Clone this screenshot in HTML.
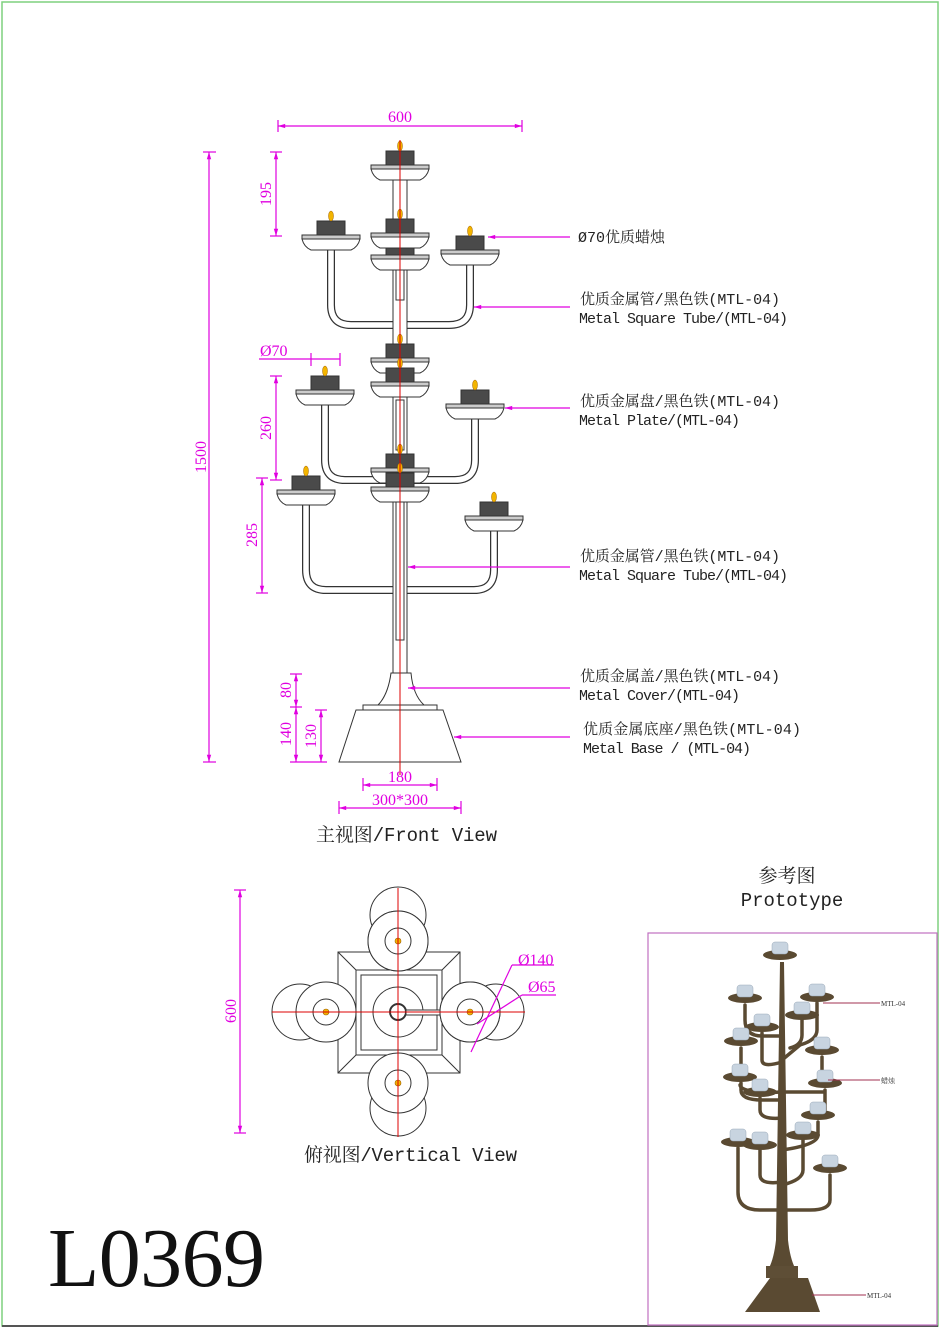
<!DOCTYPE html>
<html><head><meta charset="utf-8"><style>
html,body{margin:0;padding:0;background:#fff}
svg{display:block}
.t{font-family:"Liberation Mono","Noto Serif CJK SC",monospace;font-size:15px;fill:#222}
.d{font-family:"Liberation Serif","Noto Serif CJK SC",serif;font-size:16px;fill:#e000e0}
.m{stroke:#e000e0;stroke-width:1.2;fill:none}
</style></head><body>
<svg width="940" height="1329" viewBox="0 0 940 1329" xmlns="http://www.w3.org/2000/svg">
<defs>
<marker id="a" viewBox="0 0 10 10" refX="10" refY="5" markerWidth="8" markerHeight="6" orient="auto-start-reverse"><path d="M0,2 L10,5 L0,8z" fill="#e000e0"/></marker>
<g id="h">
<rect x="-14" y="-14" width="28" height="14" fill="#4a4a4a" stroke="#333"/>
<ellipse cx="0" cy="-19" rx="2.5" ry="5" fill="#f2b400" stroke="#a06000" stroke-width="0.5"/>
<path d="M-29,4 L29,4 Q27,12 20,15 L-20,15 Q-27,12 -29,4 Z" fill="#fff" stroke="#333"/>
<rect x="-29" y="0" width="58" height="4" fill="#ccc" stroke="#333"/>
</g>
<g id="p"><circle r="28" fill="#fff" stroke="#333"/></g>
<g id="q"><circle r="30" fill="#fff" stroke="#333"/><circle r="13" fill="none" stroke="#333"/><circle r="3" fill="#f2b400" stroke="#a06000" stroke-width=".6"/></g>
</defs>
<rect x="2" y="2" width="936" height="1324" fill="none" stroke="#7fd07f" stroke-width="1.5"/>
<line x1="2" y1="1326" x2="938" y2="1326" stroke="#555" stroke-width="2"/>

<g fill="none">
<path d="M331,249 V305 Q331,325 351,325 H449 Q470,325 470,305 V264" stroke="#333" stroke-width="8"/>
<path d="M331,249 V305 Q331,325 351,325 H449 Q470,325 470,305 V264" stroke="#fff" stroke-width="5.5"/>
<path d="M325,404 V460 Q325,480 345,480 H455 Q475,480 475,460 V418" stroke="#333" stroke-width="8"/>
<path d="M325,404 V460 Q325,480 345,480 H455 Q475,480 475,460 V418" stroke="#fff" stroke-width="5.5"/>
<path d="M306,504 V570 Q306,590 326,590 H474 Q494,590 494,570 V530" stroke="#333" stroke-width="8"/>
<path d="M306,504 V570 Q306,590 326,590 H474 Q494,590 494,570 V530" stroke="#fff" stroke-width="5.5"/>
</g>
<path d="M393,175 H407 V675 H393 Z" fill="#fff" stroke="#333"/>
<path d="M396,270 H404 V300 H396Z M396,400 H404 V450 H396Z M396,500 H404 V640 H396Z" fill="none" stroke="#333"/>
<use href="#h" x="400" y="165"/>
<use href="#h" x="400" y="255"/>
<use href="#h" x="331" y="235"/>
<use href="#h" x="400" y="233"/>
<use href="#h" x="470" y="250"/>
<use href="#h" x="400" y="358"/>
<use href="#h" x="400" y="382"/>
<use href="#h" x="325" y="390"/>
<use href="#h" x="475" y="404"/>
<use href="#h" x="400" y="468"/>
<use href="#h" x="400" y="487"/>
<use href="#h" x="306" y="490"/>
<use href="#h" x="494" y="516"/>
<path d="M391,673 Q388,695 378,705 H424 Q413,695 411,673 Z" fill="#fff" stroke="#333"/>
<rect x="363" y="705" width="74" height="5" fill="#fff" stroke="#333"/>
<path d="M356,710 H443 L461,762 H339 Z" fill="#fff" stroke="#333"/>
<line x1="400" y1="140" x2="400" y2="775" stroke="#d00" stroke-width="1"/>

<line class="m" x1="278" y1="126" x2="522" y2="126" marker-start="url(#a)" marker-end="url(#a)"/>
<line class="m" x1="278" y1="120" x2="278" y2="132"/><line class="m" x1="522" y1="120" x2="522" y2="132"/>
<text class="d" x="400" y="122" text-anchor="middle">600</text>
<line class="m" x1="209" y1="152" x2="209" y2="762" marker-start="url(#a)" marker-end="url(#a)"/>
<line class="m" x1="203" y1="152" x2="216" y2="152"/><line class="m" x1="203" y1="762" x2="216" y2="762"/>
<text class="d" transform="translate(206,457) rotate(-90)" text-anchor="middle">1500</text>
<line class="m" x1="276" y1="152" x2="276" y2="236" marker-start="url(#a)" marker-end="url(#a)"/>
<line class="m" x1="270" y1="152" x2="282" y2="152"/><line class="m" x1="270" y1="236" x2="282" y2="236"/>
<text class="d" transform="translate(271,194) rotate(-90)" text-anchor="middle">195</text>
<line class="m" x1="259" y1="359" x2="340" y2="359"/>
<line class="m" x1="311" y1="353" x2="311" y2="366"/><line class="m" x1="340" y1="353" x2="340" y2="366"/>
<text class="d" x="260" y="356">Ø70</text>
<line class="m" x1="276" y1="376" x2="276" y2="480" marker-start="url(#a)" marker-end="url(#a)"/>
<line class="m" x1="270" y1="376" x2="282" y2="376"/><line class="m" x1="270" y1="480" x2="282" y2="480"/>
<text class="d" transform="translate(271,428) rotate(-90)" text-anchor="middle">260</text>
<line class="m" x1="262" y1="478" x2="262" y2="593" marker-start="url(#a)" marker-end="url(#a)"/>
<line class="m" x1="256" y1="478" x2="268" y2="478"/><line class="m" x1="256" y1="593" x2="268" y2="593"/>
<text class="d" transform="translate(257,535) rotate(-90)" text-anchor="middle">285</text>
<line class="m" x1="296" y1="674" x2="296" y2="707" marker-start="url(#a)" marker-end="url(#a)"/>
<line class="m" x1="296" y1="707" x2="296" y2="762" marker-start="url(#a)" marker-end="url(#a)"/>
<line class="m" x1="290" y1="674" x2="302" y2="674"/><line class="m" x1="290" y1="707" x2="302" y2="707"/><line class="m" x1="290" y1="762" x2="327" y2="762"/>
<text class="d" transform="translate(291,690) rotate(-90)" text-anchor="middle">80</text>
<text class="d" transform="translate(291,734) rotate(-90)" text-anchor="middle">140</text>
<line class="m" x1="321" y1="710" x2="321" y2="762" marker-start="url(#a)" marker-end="url(#a)"/>
<line class="m" x1="315" y1="710" x2="327" y2="710"/>
<text class="d" transform="translate(316,736) rotate(-90)" text-anchor="middle">130</text>
<line class="m" x1="363" y1="785" x2="437" y2="785" marker-start="url(#a)" marker-end="url(#a)"/>
<line class="m" x1="363" y1="778" x2="363" y2="791"/><line class="m" x1="437" y1="778" x2="437" y2="791"/>
<text class="d" x="400" y="782" text-anchor="middle">180</text>
<line class="m" x1="339" y1="808" x2="461" y2="808" marker-start="url(#a)" marker-end="url(#a)"/>
<line class="m" x1="339" y1="801" x2="339" y2="814"/><line class="m" x1="461" y1="801" x2="461" y2="814"/>
<text class="d" x="400" y="805" text-anchor="middle">300*300</text>

<line class="m" x1="488" y1="237" x2="570" y2="237" marker-start="url(#a)"/>
<line class="m" x1="474" y1="307" x2="570" y2="307" marker-start="url(#a)"/>
<line class="m" x1="505" y1="408" x2="570" y2="408" marker-start="url(#a)"/>
<line class="m" x1="408" y1="567" x2="570" y2="567" marker-start="url(#a)"/>
<line class="m" x1="408" y1="688" x2="570" y2="688" marker-start="url(#a)"/>
<line class="m" x1="454" y1="737" x2="570" y2="737" marker-start="url(#a)"/>
<text class="t" x="578" y="242">Ø70优质蜡烛</text>
<text class="t" x="580" y="304" textLength="200">优质金属管/黑色铁(MTL-04)</text>
<text class="t" x="579" y="323" textLength="209">Metal Square Tube/(MTL-04)</text>
<text class="t" x="580" y="406" textLength="200">优质金属盘/黑色铁(MTL-04)</text>
<text class="t" x="579" y="425" textLength="161">Metal Plate/(MTL-04)</text>
<text class="t" x="580" y="561" textLength="200">优质金属管/黑色铁(MTL-04)</text>
<text class="t" x="579" y="580" textLength="209">Metal Square Tube/(MTL-04)</text>
<text class="t" x="580" y="681" textLength="200">优质金属盖/黑色铁(MTL-04)</text>
<text class="t" x="579" y="700" textLength="161">Metal Cover/(MTL-04)</text>
<text class="t" x="583" y="734" textLength="218">优质金属底座/黑色铁(MTL-04)</text>
<text class="t" x="583" y="753" textLength="168">Metal Base / (MTL-04)</text>
<text class="t" x="316" y="841" style="font-size:19px" textLength="181">主视图/Front View</text>

<path d="M338,952 H460 V1073 H338 Z M356,970 H442 V1055 H356 Z M361,975 H437 V1050 H361 Z M338,952 L356,970 M460,952 L442,970 M338,1073 L356,1055 M460,1073 L442,1055" fill="#fff" stroke="#333"/>
<circle cx="398" cy="1012" r="25" fill="none" stroke="#333"/>
<circle cx="398" cy="1012" r="8" fill="none" stroke="#333" stroke-width="2"/>
<rect x="406" y="1010" width="58" height="5" fill="#fff" stroke="#333"/>
<use href="#p" x="398" y="915"/><use href="#q" x="398" y="941"/>
<use href="#p" x="300" y="1012"/><use href="#q" x="326" y="1012"/>
<use href="#p" x="496" y="1012"/><use href="#q" x="470" y="1012"/>
<use href="#p" x="398" y="1108"/><use href="#q" x="398" y="1083"/>
<use href="#q" x="398" y="941"/><use href="#q" x="470" y="1012"/>
<line x1="272" y1="1012" x2="525" y2="1012" stroke="#d00"/>
<line x1="398" y1="888" x2="398" y2="1137" stroke="#d00"/>
<line class="m" x1="471" y1="1052" x2="512" y2="965"/>
<line class="m" x1="512" y1="965" x2="554" y2="965"/>
<line class="m" x1="477" y1="1024" x2="522" y2="995"/>
<line class="m" x1="522" y1="995" x2="556" y2="995"/>
<text class="d" x="518" y="965">Ø140</text>
<text class="d" x="528" y="992">Ø65</text>
<line class="m" x1="240" y1="890" x2="240" y2="1133" marker-start="url(#a)" marker-end="url(#a)"/>
<line class="m" x1="234" y1="890" x2="246" y2="890"/><line class="m" x1="234" y1="1133" x2="246" y2="1133"/>
<text class="d" transform="translate(236,1011) rotate(-90)" text-anchor="middle">600</text>
<text class="t" x="304" y="1161" style="font-size:19px" textLength="213">俯视图/Vertical View</text>

<text class="t" x="787" y="882" style="font-size:19px" text-anchor="middle">参考图</text>
<text class="t" x="792" y="906" style="font-size:19px" text-anchor="middle">Prototype</text>
<rect x="648" y="933" width="289" height="392" fill="#fff" stroke="#c070c0" stroke-width="1.2"/>
<g fill="none" stroke="#5a4a32" stroke-width="3.5" stroke-linecap="round">
<path d="M745,1005 V1020 Q745,1036 762,1036 H782 M817,1003 V1030 Q817,1040 800,1045 L782,1060"/>
<path d="M802,1020 V1035 Q802,1045 790,1048 M762,1033 V1060 Q762,1068 782,1062"/>
<path d="M741,1048 V1066 M741,1083 V1090 Q741,1100 762,1100 H782 M822,1057 V1075"/>
<path d="M740,1085 Q740,1090 760,1093 L782,1092 H825 M825,1090 V1110"/>
<path d="M760,1098 V1110 Q760,1120 782,1118 M818,1122 V1135 Q818,1145 782,1150"/>
<path d="M738,1148 V1192 Q738,1210 760,1210 H782 M830,1175 V1200 Q830,1210 810,1210 H782"/>
<path d="M760,1150 V1175 Q760,1185 782,1182 M803,1140 V1170 Q803,1180 782,1185"/>
</g>
<path d="M780,962 L784,962 L788,1240 Q790,1258 795,1268 H769 Q774,1258 776,1240 Z" fill="#5a4a32"/>
<path d="M766,1266 H798 V1278 H766 Z" fill="#5e4e36"/>
<path d="M770,1278 H808 L820,1312 H745 Z" fill="#5a4a32"/>
<g fill="#5a4a32">
<ellipse cx="780" cy="955" rx="17" ry="5"/><ellipse cx="745" cy="998" rx="17" ry="5"/><ellipse cx="817" cy="997" rx="17" ry="5"/>
<ellipse cx="802" cy="1015" rx="17" ry="5"/><ellipse cx="762" cy="1027" rx="17" ry="5"/><ellipse cx="741" cy="1041" rx="17" ry="5"/>
<ellipse cx="822" cy="1050" rx="17" ry="5"/><ellipse cx="740" cy="1077" rx="17" ry="5"/><ellipse cx="825" cy="1083" rx="17" ry="5"/>
<ellipse cx="760" cy="1092" rx="17" ry="5"/><ellipse cx="818" cy="1115" rx="17" ry="5"/><ellipse cx="738" cy="1142" rx="17" ry="5"/>
<ellipse cx="760" cy="1145" rx="17" ry="5"/><ellipse cx="803" cy="1135" rx="17" ry="5"/><ellipse cx="830" cy="1168" rx="17" ry="5"/>
</g>
<g fill="#c8d4e0" stroke="#9aa8b8" stroke-width=".5">
<rect x="772" y="942" width="16" height="12" rx="3"/><rect x="737" y="985" width="16" height="12" rx="3"/><rect x="809" y="984" width="16" height="12" rx="3"/>
<rect x="794" y="1002" width="16" height="12" rx="3"/><rect x="754" y="1014" width="16" height="12" rx="3"/><rect x="733" y="1028" width="16" height="12" rx="3"/>
<rect x="814" y="1037" width="16" height="12" rx="3"/><rect x="732" y="1064" width="16" height="12" rx="3"/><rect x="817" y="1070" width="16" height="12" rx="3"/>
<rect x="752" y="1079" width="16" height="12" rx="3"/><rect x="810" y="1102" width="16" height="12" rx="3"/><rect x="730" y="1129" width="16" height="12" rx="3"/>
<rect x="752" y="1132" width="16" height="12" rx="3"/><rect x="795" y="1122" width="16" height="12" rx="3"/><rect x="822" y="1155" width="16" height="12" rx="3"/>
</g>
<g stroke="#a03050" stroke-width="1"><line x1="823" y1="1003" x2="880" y2="1003"/><line x1="828" y1="1080" x2="880" y2="1080"/><line x1="812" y1="1295" x2="866" y2="1295"/></g>
<g font-family="Liberation Serif,serif" font-size="7" fill="#333"><text x="881" y="1006">MTL-04</text><text x="881" y="1083" font-family="Noto Serif CJK SC,serif">蜡烛</text><text x="867" y="1298">MTL-04</text></g>

<text x="48" y="1286" font-family="Liberation Serif,serif" font-size="84" fill="#111" textLength="217">L0369</text>
</svg>
</body></html>
